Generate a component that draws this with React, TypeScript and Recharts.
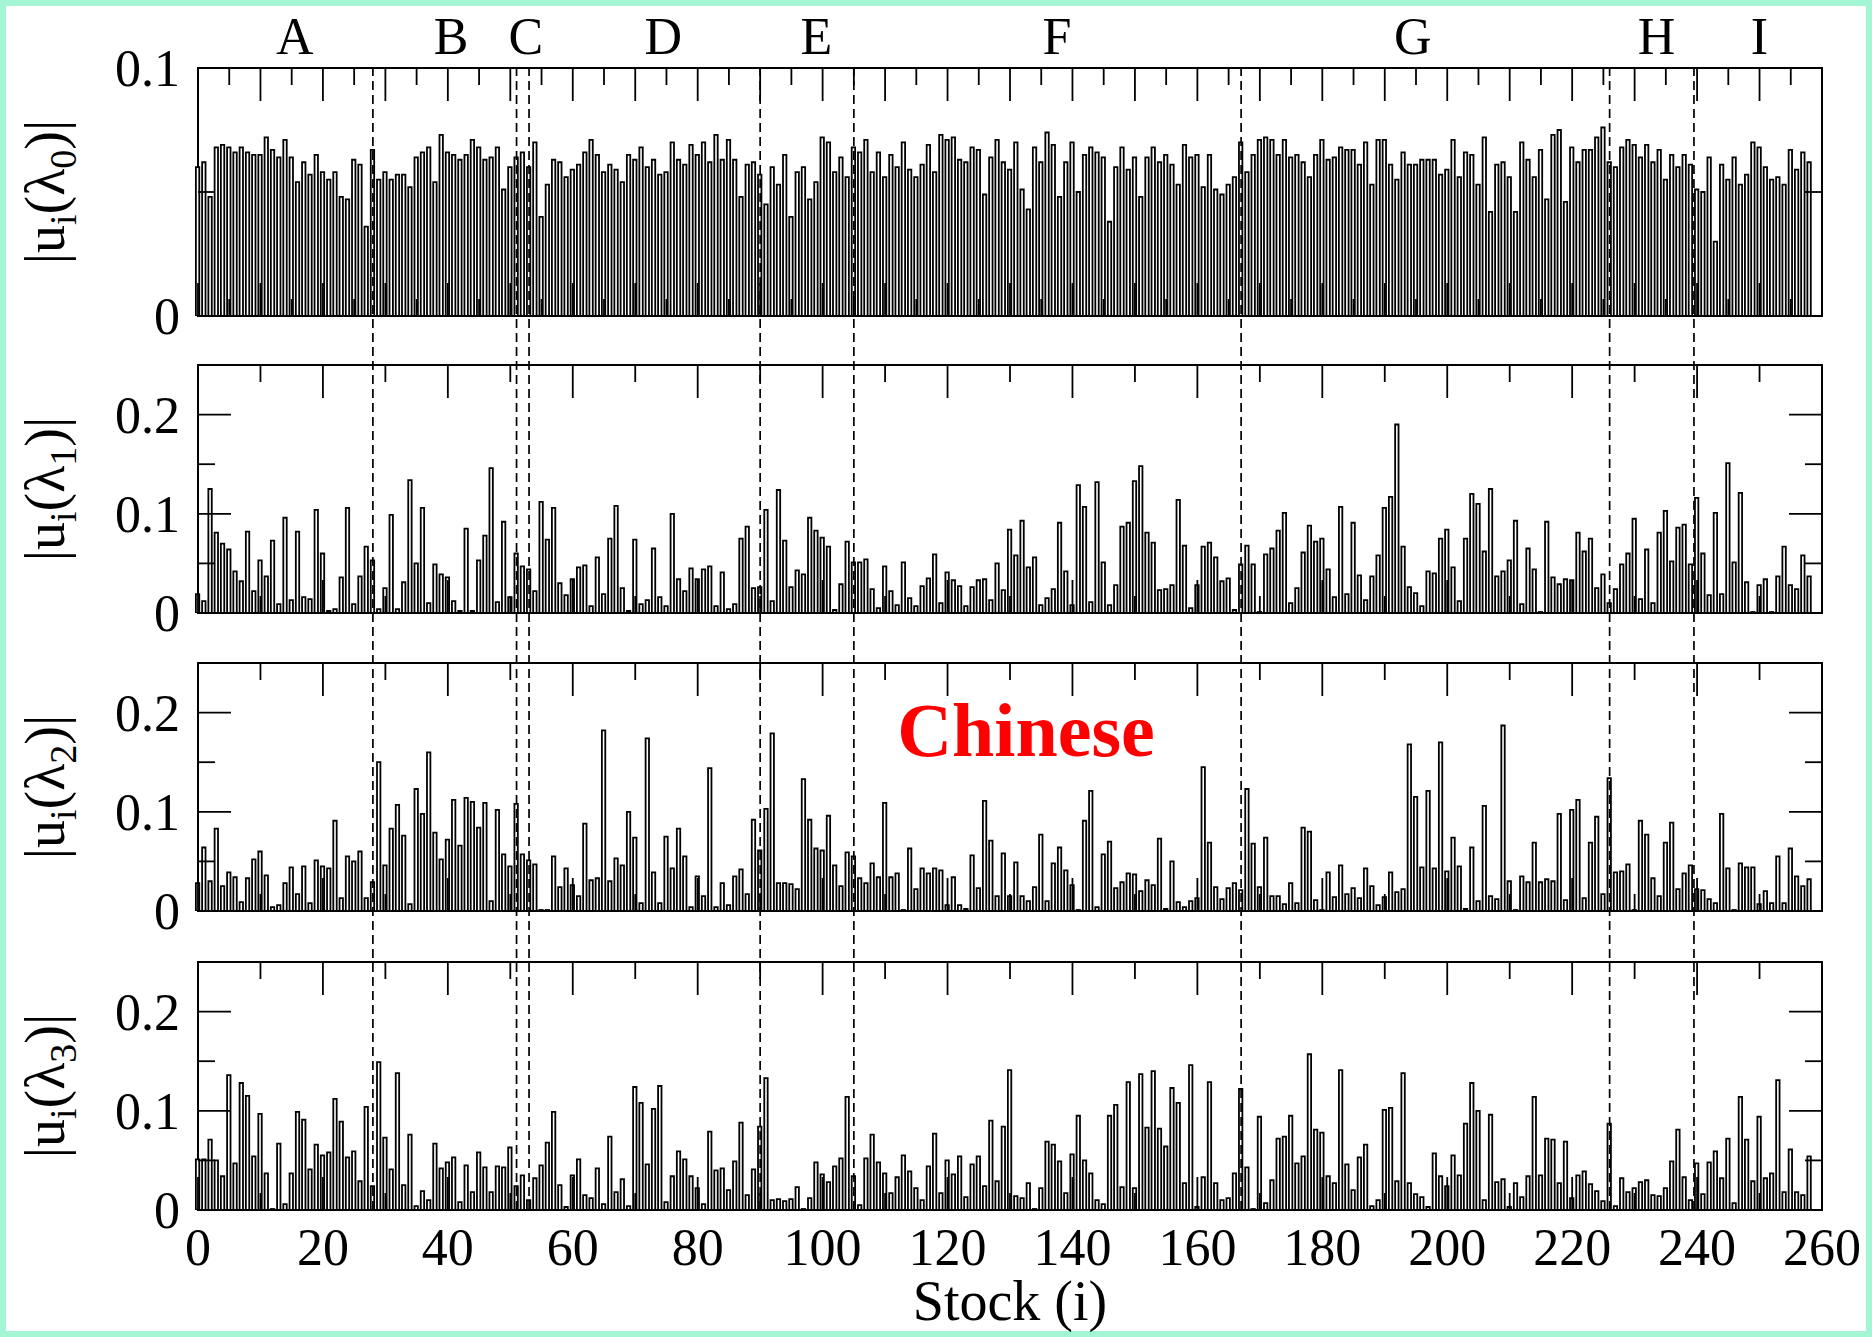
import React from 'react';
import { Bar, BarChart, ReferenceArea, ReferenceLine, XAxis, YAxis } from 'recharts';

// |u_i(lambda_k)| for stocks i = 0..258, one array per eigenvector
const L0 = [
  0.060, 0.062, 0.048, 0.068, 0.069, 0.068, 0.066, 0.068, 0.066, 0.065,
  0.065, 0.072, 0.067, 0.064, 0.071, 0.064, 0.054, 0.062, 0.057, 0.065,
  0.058, 0.055, 0.058, 0.048, 0.047, 0.063, 0.061, 0.036, 0.067, 0.055,
  0.058, 0.055, 0.057, 0.057, 0.052, 0.064, 0.066, 0.068, 0.054, 0.073,
  0.066, 0.065, 0.063, 0.065, 0.071, 0.068, 0.063, 0.064, 0.068, 0.051,
  0.060, 0.064, 0.066, 0.060, 0.070, 0.040, 0.053, 0.063, 0.062, 0.056,
  0.059, 0.061, 0.066, 0.071, 0.065, 0.058, 0.061, 0.059, 0.054, 0.065,
  0.063, 0.068, 0.060, 0.063, 0.057, 0.058, 0.070, 0.063, 0.061, 0.069,
  0.065, 0.070, 0.062, 0.073, 0.063, 0.071, 0.063, 0.048, 0.061, 0.062,
  0.057, 0.045, 0.060, 0.053, 0.065, 0.040, 0.058, 0.060, 0.047, 0.054,
  0.072, 0.070, 0.058, 0.064, 0.056, 0.068, 0.066, 0.071, 0.058, 0.066,
  0.056, 0.065, 0.060, 0.070, 0.059, 0.056, 0.061, 0.069, 0.058, 0.073,
  0.071, 0.072, 0.063, 0.062, 0.068, 0.067, 0.049, 0.064, 0.071, 0.062,
  0.059, 0.070, 0.051, 0.043, 0.068, 0.062, 0.074, 0.069, 0.048, 0.062,
  0.070, 0.050, 0.065, 0.068, 0.066, 0.064, 0.038, 0.060, 0.068, 0.059,
  0.064, 0.048, 0.064, 0.068, 0.062, 0.065, 0.061, 0.053, 0.069, 0.064,
  0.065, 0.052, 0.065, 0.051, 0.049, 0.053, 0.056, 0.070, 0.058, 0.065,
  0.071, 0.072, 0.071, 0.065, 0.071, 0.064, 0.065, 0.062, 0.056, 0.065,
  0.071, 0.063, 0.064, 0.068, 0.067, 0.067, 0.061, 0.070, 0.053, 0.071,
  0.071, 0.061, 0.055, 0.066, 0.061, 0.061, 0.063, 0.063, 0.063, 0.057,
  0.059, 0.071, 0.056, 0.066, 0.065, 0.053, 0.072, 0.042, 0.061, 0.062,
  0.056, 0.042, 0.070, 0.063, 0.056, 0.067, 0.047, 0.073, 0.075, 0.046,
  0.068, 0.062, 0.067, 0.067, 0.072, 0.076, 0.062, 0.060, 0.068, 0.071,
  0.069, 0.064, 0.069, 0.062, 0.067, 0.055, 0.065, 0.060, 0.065, 0.061,
  0.051, 0.050, 0.064, 0.030, 0.061, 0.055, 0.064, 0.053, 0.057, 0.070,
  0.068, 0.060, 0.055, 0.056, 0.053, 0.067, 0.059, 0.066, 0.062,
];

const L1 = [
  0.019, 0.012, 0.125, 0.081, 0.070, 0.064, 0.042, 0.032, 0.082, 0.022,
  0.053, 0.037, 0.073, 0.009, 0.096, 0.013, 0.082, 0.016, 0.014, 0.104,
  0.060, 0.002, 0.004, 0.036, 0.106, 0.009, 0.037, 0.067, 0.053, 0.004,
  0.025, 0.099, 0.004, 0.031, 0.134, 0.050, 0.106, 0.010, 0.049, 0.039,
  0.036, 0.012, 0.002, 0.085, 0.002, 0.053, 0.078, 0.146, 0.011, 0.092,
  0.016, 0.060, 0.047, 0.044, 0.022, 0.112, 0.074, 0.106, 0.030, 0.018,
  0.034, 0.046, 0.048, 0.007, 0.056, 0.019, 0.075, 0.108, 0.025, 0.002,
  0.074, 0.009, 0.013, 0.065, 0.016, 0.007, 0.100, 0.034, 0.022, 0.045,
  0.034, 0.044, 0.047, 0.007, 0.041, 0.004, 0.009, 0.075, 0.087, 0.025,
  0.026, 0.104, 0.012, 0.124, 0.073, 0.026, 0.043, 0.039, 0.096, 0.083,
  0.076, 0.067, 0.003, 0.029, 0.072, 0.051, 0.051, 0.054, 0.024, 0.005,
  0.047, 0.022, 0.008, 0.051, 0.015, 0.007, 0.027, 0.035, 0.059, 0.010,
  0.041, 0.033, 0.027, 0.007, 0.026, 0.033, 0.034, 0.013, 0.050, 0.023,
  0.084, 0.058, 0.093, 0.046, 0.056, 0.008, 0.015, 0.024, 0.091, 0.042,
  0.008, 0.129, 0.107, 0.011, 0.132, 0.051, 0.008, 0.028, 0.087, 0.091,
  0.133, 0.148, 0.081, 0.071, 0.023, 0.024, 0.028, 0.114, 0.068, 0.005,
  0.028, 0.067, 0.071, 0.056, 0.032, 0.035, 0.003, 0.049, 0.068, 0.049,
  0.001, 0.059, 0.065, 0.083, 0.101, 0.010, 0.025, 0.061, 0.088, 0.072,
  0.075, 0.044, 0.016, 0.107, 0.019, 0.091, 0.038, 0.013, 0.037, 0.058,
  0.106, 0.117, 0.190, 0.067, 0.026, 0.020, 0.007, 0.042, 0.040, 0.075,
  0.084, 0.046, 0.012, 0.075, 0.120, 0.110, 0.062, 0.125, 0.037, 0.042,
  0.053, 0.093, 0.009, 0.065, 0.044, 0.001, 0.092, 0.036, 0.029, 0.034,
  0.033, 0.081, 0.062, 0.075, 0.025, 0.039, 0.010, 0.024, 0.049, 0.060,
  0.095, 0.014, 0.064, 0.010, 0.081, 0.103, 0.052, 0.086, 0.089, 0.049,
  0.116, 0.060, 0.018, 0.101, 0.019, 0.151, 0.051, 0.121, 0.031, 0.001,
  0.028, 0.034, 0.001, 0.037, 0.067, 0.028, 0.024, 0.058, 0.037,
];

const L2 = [
  0.028, 0.064, 0.030, 0.083, 0.025, 0.039, 0.034, 0.009, 0.033, 0.052,
  0.060, 0.036, 0.004, 0.006, 0.028, 0.044, 0.017, 0.045, 0.008, 0.051,
  0.045, 0.043, 0.091, 0.013, 0.055, 0.050, 0.060, 0.013, 0.029, 0.150,
  0.046, 0.083, 0.107, 0.076, 0.007, 0.123, 0.098, 0.160, 0.079, 0.052,
  0.072, 0.112, 0.066, 0.114, 0.110, 0.084, 0.109, 0.010, 0.102, 0.057,
  0.045, 0.108, 0.057, 0.051, 0.047, 0.001, 0.001, 0.055, 0.024, 0.043,
  0.026, 0.015, 0.088, 0.031, 0.033, 0.182, 0.030, 0.053, 0.046, 0.100,
  0.074, 0.008, 0.174, 0.039, 0.008, 0.075, 0.043, 0.083, 0.055, 0.004,
  0.035, 0.015, 0.144, 0.004, 0.028, 0.006, 0.035, 0.042, 0.017, 0.092,
  0.061, 0.103, 0.179, 0.028, 0.028, 0.027, 0.022, 0.133, 0.092, 0.063,
  0.061, 0.096, 0.046, 0.025, 0.059, 0.055, 0.033, 0.028, 0.048, 0.034,
  0.109, 0.034, 0.038, 0.001, 0.063, 0.022, 0.043, 0.038, 0.043, 0.041,
  0.006, 0.034, 0.006, 0.002, 0.056, 0.023, 0.111, 0.071, 0.015, 0.058,
  0.015, 0.049, 0.015, 0.010, 0.024, 0.077, 0.010, 0.048, 0.064, 0.041,
  0.026, 0.001, 0.091, 0.121, 0.004, 0.057, 0.070, 0.023, 0.029, 0.038,
  0.037, 0.020, 0.031, 0.026, 0.073, 0.002, 0.050, 0.009, 0.004, 0.010,
  0.013, 0.145, 0.069, 0.024, 0.012, 0.023, 0.028, 0.021, 0.123, 0.068,
  0.024, 0.074, 0.015, 0.015, 0.007, 0.028, 0.008, 0.084, 0.080, 0.011,
  0.001, 0.039, 0.014, 0.046, 0.017, 0.023, 0.013, 0.043, 0.025, 0.006,
  0.014, 0.039, 0.019, 0.022, 0.168, 0.115, 0.044, 0.121, 0.043, 0.170,
  0.040, 0.074, 0.045, 0.002, 0.064, 0.010, 0.106, 0.015, 0.012, 0.187,
  0.030, 0.001, 0.035, 0.029, 0.069, 0.029, 0.032, 0.030, 0.098, 0.011,
  0.102, 0.112, 0.013, 0.069, 0.095, 0.017, 0.134, 0.039, 0.040, 0.047,
  0.001, 0.091, 0.077, 0.033, 0.015, 0.069, 0.089, 0.022, 0.038, 0.046,
  0.022, 0.021, 0.012, 0.008, 0.098, 0.043, 0.001, 0.048, 0.044, 0.044,
  0.007, 0.020, 0.008, 0.055, 0.008, 0.063, 0.035, 0.025, 0.032,
];

const L3 = [
  0.051, 0.051, 0.071, 0.050, 0.034, 0.136, 0.047, 0.128, 0.115, 0.054,
  0.097, 0.037, 0.001, 0.067, 0.006, 0.037, 0.099, 0.091, 0.041, 0.066,
  0.055, 0.058, 0.112, 0.089, 0.053, 0.059, 0.029, 0.104, 0.024, 0.149,
  0.073, 0.041, 0.138, 0.025, 0.076, 0.004, 0.019, 0.010, 0.067, 0.042,
  0.048, 0.053, 0.008, 0.045, 0.018, 0.058, 0.043, 0.018, 0.044, 0.043,
  0.063, 0.024, 0.035, 0.010, 0.032, 0.045, 0.068, 0.099, 0.025, 0.003,
  0.035, 0.051, 0.015, 0.012, 0.042, 0.006, 0.074, 0.018, 0.031, 0.004,
  0.124, 0.108, 0.046, 0.102, 0.125, 0.008, 0.034, 0.059, 0.051, 0.034,
  0.022, 0.006, 0.079, 0.040, 0.042, 0.020, 0.049, 0.088, 0.015, 0.041,
  0.084, 0.133, 0.010, 0.011, 0.009, 0.011, 0.023, 0.001, 0.012, 0.048,
  0.036, 0.028, 0.044, 0.052, 0.114, 0.034, 0.005, 0.052, 0.076, 0.048,
  0.037, 0.017, 0.033, 0.055, 0.039, 0.022, 0.010, 0.044, 0.077, 0.017,
  0.050, 0.036, 0.054, 0.013, 0.046, 0.054, 0.024, 0.090, 0.029, 0.084,
  0.141, 0.014, 0.012, 0.027, 0.001, 0.022, 0.069, 0.066, 0.049, 0.017,
  0.056, 0.095, 0.050, 0.037, 0.010, 0.006, 0.095, 0.106, 0.023, 0.129,
  0.022, 0.137, 0.083, 0.140, 0.082, 0.064, 0.123, 0.108, 0.027, 0.146,
  0.003, 0.033, 0.129, 0.027, 0.010, 0.012, 0.037, 0.122, 0.043, 0.001,
  0.094, 0.007, 0.030, 0.072, 0.074, 0.095, 0.047, 0.054, 0.157, 0.081,
  0.078, 0.034, 0.027, 0.141, 0.046, 0.020, 0.053, 0.066, 0.004, 0.010,
  0.101, 0.103, 0.029, 0.138, 0.027, 0.016, 0.013, 0.003, 0.057, 0.034,
  0.024, 0.055, 0.035, 0.087, 0.128, 0.100, 0.010, 0.096, 0.028, 0.031,
  0.003, 0.027, 0.013, 0.034, 0.114, 0.035, 0.072, 0.071, 0.027, 0.069,
  0.012, 0.035, 0.039, 0.026, 0.019, 0.009, 0.087, 0.004, 0.032, 0.018,
  0.022, 0.028, 0.030, 0.015, 0.014, 0.022, 0.049, 0.081, 0.033, 0.010,
  0.047, 0.016, 0.048, 0.059, 0.032, 0.072, 0.007, 0.114, 0.071, 0.029,
  0.094, 0.032, 0.037, 0.131, 0.018, 0.061, 0.018, 0.015, 0.054,
];

// sector names, where their labels sit on the stock axis, and where each new sector starts
const SECTORS = ['A', 'B', 'C', 'D', 'E', 'F', 'G', 'H', 'I'];
const SECTOR_LABEL_AT = [15.5, 40.5, 52.5, 74.5, 99, 137.5, 194.5, 233.5, 250];
const SECTOR_BOUNDS = [28, 51, 53, 90, 105, 167, 226, 239.5];

const X_MAX = 260;
const X_LABELS = [0, 20, 40, 60, 80, 100, 120, 140, 160, 180, 200, 220, 240, 260];
const Y_TICKS_TOP = [0, 0.05, 0.1];
const Y_TICKS = [0, 0.05, 0.1, 0.15, 0.2, 0.25];
const Y_LABELS = [0, 0.1, 0.2];

const W = 1872;
const H = 1337;
const PLOT_LEFT = 198;
const PLOT_RIGHT = 50;
const PLOT_W = W - PLOT_LEFT - PLOT_RIGHT;
const PLOT_H = 248;
const PANEL_TOPS = [68, 365, 663, 962];
const MAJOR_TICK = 33;
const MINOR_TICK = 17;
const SERIF = "'Liberation Serif', 'Times New Roman', Times, serif";
const FRAME = '#a3f5d3';

function xTicks(step: number) {
  const out: number[] = [];
  for (let v = 0; v <= X_MAX; v += step) out.push(v);
  return out;
}

// ticks point inward on both the bottom and the top edge of the plot
function xTickRenderer(step: number, withLabels: boolean) {
  return (p: any) => {
    const v = p.payload.value;
    const len = v % (step * 2) === 0 ? MAJOR_TICK : MINOR_TICK;
    return (
      <g>
        <line x1={p.x} x2={p.x} y1={p.y} y2={p.y - len} stroke="#000" strokeWidth={1.8} />
        <line x1={p.x} x2={p.x} y1={p.y - PLOT_H} y2={p.y - PLOT_H + len} stroke="#000" strokeWidth={1.8} />
        {withLabels && X_LABELS.includes(v) ? (
          <text x={p.x} y={p.y + 55} textAnchor="middle" fontSize={52} fontFamily={SERIF} fill="#000">
            {v}
          </text>
        ) : null}
      </g>
    );
  };
}

// same on the left and right edges
function yTickRenderer(p: any) {
  const v = p.payload.value;
  const major = Y_LABELS.includes(v);
  const len = major ? MAJOR_TICK : MINOR_TICK;
  return (
    <g>
      <line x1={p.x} x2={p.x + len} y1={p.y} y2={p.y} stroke="#000" strokeWidth={1.8} />
      <line x1={p.x + PLOT_W} x2={p.x + PLOT_W - len} y1={p.y} y2={p.y} stroke="#000" strokeWidth={1.8} />
      {major ? (
        <text x={p.x - 18} y={p.y + 18} textAnchor="end" fontSize={52} fontFamily={SERIF} fill="#000">
          {v === 0 ? '0' : String(v)}
        </text>
      ) : null}
    </g>
  );
}

function sectorTick(p: any) {
  return (
    <text x={p.x} y={p.y - 14} textAnchor="middle" fontSize={52} fontFamily={SERIF} fill="#000">
      {SECTORS[p.index]}
    </text>
  );
}

function yTitle(sub: string, cy: number) {
  const cx = 64;
  return (
    <text
      transform={`rotate(-90 ${cx} ${cy})`}
      x={cx}
      y={cy}
      textAnchor="middle"
      fontSize={56}
      fontFamily={SERIF}
      fill="#000"
    >
      |u<tspan dy={12} fontSize={38}>i</tspan>
      <tspan dy={-12}>(λ</tspan>
      <tspan dy={12} fontSize={38}>{sub}</tspan>
      <tspan dy={-12}>)|</tspan>
    </text>
  );
}

interface PanelProps {
  values: number[];
  sub: string;
  yMax: number;
  yTicks: number[];
  xStep: number;
  top: number;
  first?: boolean;
  last?: boolean;
}

function Panel({ values, sub, yMax, yTicks, xStep, top, first, last }: PanelProps) {
  const rows = values.map((v, i) => ({ i, v }));
  const topAxisH = first ? 60 : 0;
  const mTop = first ? 0 : 10;
  const bottomH = last ? 124 : 2;
  const mBottom = last ? 0 : 30;
  const height = mTop + topAxisH + PLOT_H + bottomH + mBottom;
  const plotTop = mTop + topAxisH;

  return (
    <div style={{ position: 'absolute', left: 0, top: top - plotTop }}>
      <BarChart
        width={W}
        height={height}
        data={rows}
        margin={{ top: mTop, right: PLOT_RIGHT, bottom: mBottom, left: 0 }}
      >
        <Bar
          dataKey="v"
          fill="#fff"
          stroke="#000"
          strokeWidth={1.8}
          barSize={3.4}
          isAnimationActive={false}
        />
        <ReferenceArea
          x1={0}
          x2={X_MAX}
          y1={0}
          y2={yMax}
          fill="none"
          fillOpacity={0}
          stroke="#000"
          strokeWidth={2}
          ifOverflow="visible"
        />
        <XAxis
          dataKey="i"
          type="number"
          domain={[0, X_MAX]}
          ticks={xTicks(xStep)}
          interval={0}
          height={bottomH}
          tickSize={0}
          tickMargin={0}
          axisLine={false}
          tickLine={false}
          tick={xTickRenderer(xStep, !!last)}
          label={
            last
              ? {
                  content: () => (
                    <text
                      x={PLOT_LEFT + PLOT_W / 2}
                      y={plotTop + PLOT_H + 110}
                      textAnchor="middle"
                      fontSize={56}
                      fontFamily={SERIF}
                      fill="#000"
                    >
                      Stock (i)
                    </text>
                  ),
                }
              : undefined
          }
        />
        {first ? (
          <XAxis
            xAxisId="sector"
            orientation="top"
            dataKey="i"
            type="number"
            domain={[0, X_MAX]}
            ticks={SECTOR_LABEL_AT}
            interval={0}
            height={topAxisH}
            tickSize={0}
            tickMargin={0}
            axisLine={false}
            tickLine={false}
            tick={sectorTick}
          />
        ) : null}
        <YAxis
          type="number"
          domain={[0, yMax]}
          allowDataOverflow
          ticks={yTicks}
          interval={0}
          width={PLOT_LEFT}
          tickSize={0}
          tickMargin={0}
          axisLine={false}
          tickLine={false}
          tick={yTickRenderer}
          label={{ content: () => yTitle(sub, plotTop + PLOT_H / 2) }}
        />
      </BarChart>
    </div>
  );
}

export default function App() {
  const span = PANEL_TOPS[3] + PLOT_H - PANEL_TOPS[0];
  const guideRows = L0.map((v, i) => ({ i, v }));

  return (
    <div style={{ position: 'absolute', left: 0, top: 0, width: W, height: H, background: FRAME }}>
      <div style={{ position: 'absolute', left: 6, top: 6, right: 6, bottom: 6, background: '#fff' }} />

      <Panel values={L0} sub="0" yMax={0.1} yTicks={Y_TICKS_TOP} xStep={5} top={PANEL_TOPS[0]} first />
      <Panel values={L1} sub="1" yMax={0.25} yTicks={Y_TICKS} xStep={10} top={PANEL_TOPS[1]} />
      <Panel values={L2} sub="2" yMax={0.25} yTicks={Y_TICKS} xStep={10} top={PANEL_TOPS[2]} />
      <Panel values={L3} sub="3" yMax={0.25} yTicks={Y_TICKS} xStep={10} top={PANEL_TOPS[3]} last />

      {/* sector boundaries run through all four panels */}
      <div style={{ position: 'absolute', left: 0, top: PANEL_TOPS[0], pointerEvents: 'none' }}>
        <BarChart
          width={W}
          height={span}
          data={guideRows}
          margin={{ top: 0, right: PLOT_RIGHT, bottom: 0, left: PLOT_LEFT }}
        >
          <Bar dataKey="v" fill="none" stroke="none" isAnimationActive={false} />
          <XAxis dataKey="i" type="number" domain={[0, X_MAX]} hide />
          <YAxis type="number" domain={[0, 1]} allowDataOverflow hide />
          {SECTOR_BOUNDS.map((b) => (
            <ReferenceLine
              key={b}
              x={b}
              stroke="#000"
              strokeWidth={1.7}
              strokeDasharray="9 5"
              ifOverflow="visible"
            />
          ))}
        </BarChart>
      </div>

      <div
        style={{
          position: 'absolute',
          left: 1026,
          top: 730,
          transform: 'translate(-50%, -50%)',
          color: '#ff0000',
          fontFamily: SERIF,
          fontWeight: 'bold',
          fontSize: 76,
          lineHeight: 1,
          whiteSpace: 'nowrap',
        }}
      >
        Chinese
      </div>
    </div>
  );
}
